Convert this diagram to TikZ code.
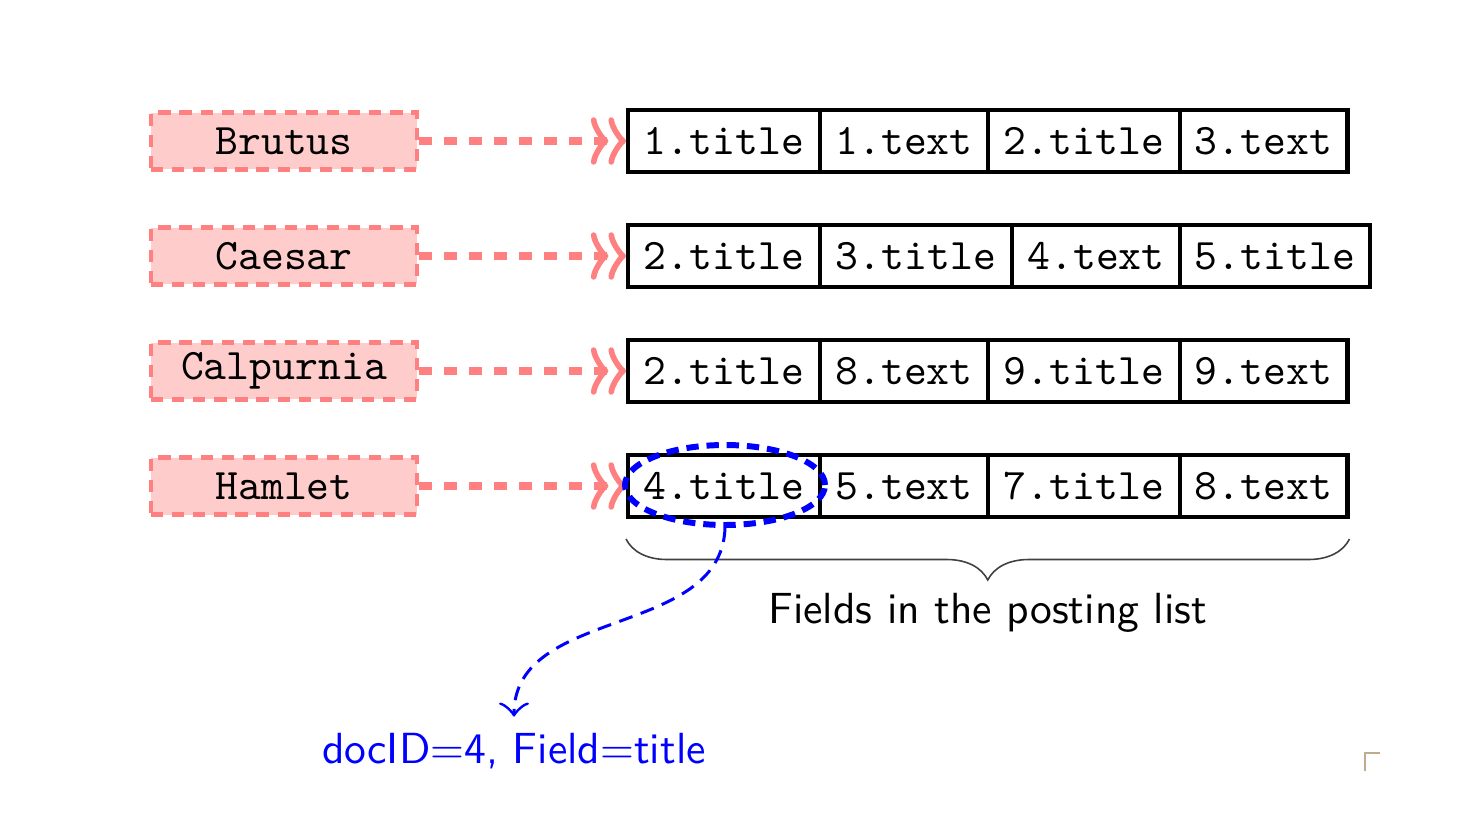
\documentclass[tikz,border=0pt]{standalone}
\usepackage{fontspec}
\newfontfamily\ttten{lmmono10-regular}[Extension=.otf]
\newfontfamily\sften{lmsans10-regular}[Extension=.otf]
\usetikzlibrary{arrows.meta,shapes.geometric,decorations.pathreplacing}
\begin{document}
\begin{tikzpicture}[x=0.02cm,y=-0.02cm,
  term/.style={draw=red!50, fill=red!20, line width=2.3pt, dash pattern=on 7pt off 5pt,
    minimum width=5.32cm, minimum height=1.14cm, inner sep=0pt,
    font=\fontsize{24.8}{30}\selectfont\ttten},
  cell/.style={draw=black, line width=2.3pt, minimum height=1.24cm, inner sep=0pt,
    font=\fontsize{24.8}{30}\selectfont\ttten},
  wt/.style={cell, minimum width=3.84cm},
  wx/.style={cell, minimum width=3.36cm},
  ptr/.style={draw=red!50, line width=4pt, dash pattern=on 7.4pt off 6.8pt,
    -{Classical TikZ Rightarrow[length=10pt,width=27pt,round,sep=0pt]Classical TikZ Rightarrow[length=10pt,width=27pt,round]}},
  sel/.style={draw=blue, ellipse, line width=3.4pt, dash pattern=on 7pt off 4.5pt,
    minimum width=4cm, minimum height=1.6cm, inner sep=0pt},
  link/.style={draw=blue, line width=1.7pt, dash pattern=on 8pt off 5pt,
    -{Classical TikZ Rightarrow[length=8pt,width=17pt,round]}},
  note/.style={text=blue, font=\fontsize{24.8}{30}\selectfont\sften, inner sep=2pt, inner ysep=9pt}
]
\useasboundingbox (0,0) rectangle (1479,838);

% terms
\node[term] (t1) at (284,141) {Brutus};
\node[term] (t2) at (284,256) {Caesar};
\node[term] (t3) at (284,371) {Calpurnia};
\node[term] (t4) at (284,486) {Hamlet};

% row 1
\node[wt] (a1) at (724,141) {1.title};
\node[wx] (a2) at (904,141) {1.text};
\node[wt] (a3) at (1084,141) {2.title};
\node[wx] (a4) at (1263.5,141) {3.text};
% row 2
\node[wt] (b1) at (724,256) {2.title};
\node[wt] (b2) at (916,256) {3.title};
\node[wx] (b3) at (1096,256) {4.text};
\node[cell, minimum width=3.8cm] (b4) at (1275,256) {5.title};
% row 3
\node[wt] (c1) at (724,371) {2.title};
\node[wx] (c2) at (904,371) {8.text};
\node[wt] (c3) at (1084,371) {9.title};
\node[wx] (c4) at (1263.5,371) {9.text};
% row 4
\node[wt] (d1) at (724,486) {4.title};
\node[wx] (d2) at (904,486) {5.text};
\node[wt] (d3) at (1084,486) {7.title};
\node[wx] (d4) at (1263.5,486) {8.text};

% pointers
\draw[ptr] (t1.east) -- (a1.west);
\draw[ptr] (t2.east) -- (b1.west);
\draw[ptr] (t3.east) -- (c1.west);
\draw[ptr] (t4.east) -- (d1.west);

% brace
\draw[black!75, line width=0.9pt, decorate, decoration={brace, mirror, amplitude=0.82cm}]
  ([yshift=-0.4cm]d1.south west) -- ([yshift=-0.4cm]d4.south east)
  node[midway, below=0.95cm, font=\fontsize{24.8}{30}\selectfont\sften, text=black] (fl) {Fields in the posting list};

% selection
\node[sel] (s) at (725,485) {};
\node[note, anchor=base] (lbl) at (514,763) {docID=4, Field=title};
\draw[link] (s.south) to[out=-92, in=90] (lbl.north);

% corner mark
\draw[draw={rgb,255:red,190;green,172;blue,140}, line width=1.1pt] (1365,771) -- (1365,753) -- (1380,753);
\end{tikzpicture}
\end{document}
